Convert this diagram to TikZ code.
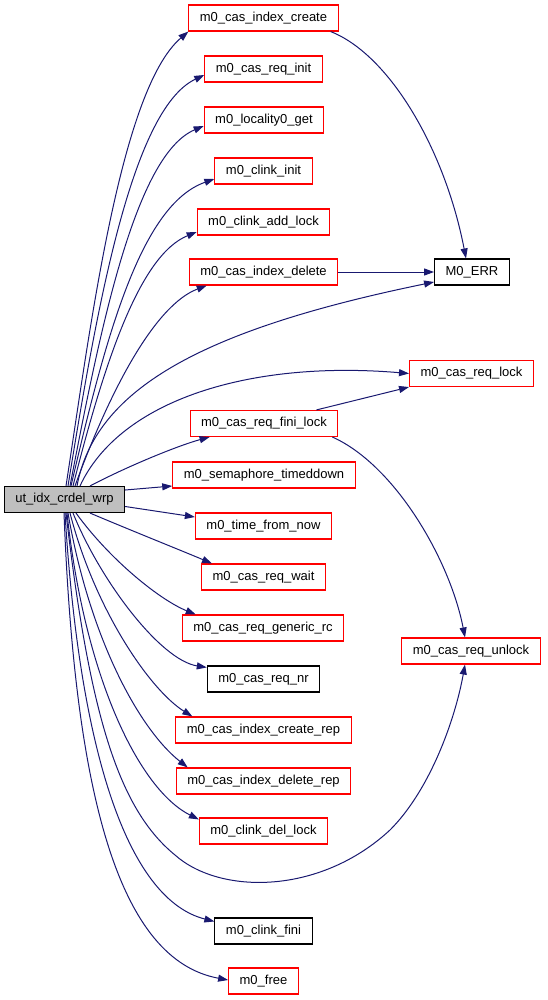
\documentclass[tikz,border=0pt]{standalone}
\usepackage{fontspec}
\setmainfont{Liberation Sans}
\usetikzlibrary{arrows.meta}
\definecolor{edgeblue}{rgb}{0.098,0.098,0.439}
\definecolor{boxred}{rgb}{1,0,0}
\definecolor{mainfill}{rgb}{0.75,0.75,0.75}
\begin{document}
\begin{tikzpicture}[x=1pt,y=-1pt,>={Triangle[length=10pt,width=7pt]},
		fn/.style={draw=boxred,line width=1.1pt,minimum height=26pt,inner xsep=11pt,inner ysep=0pt,font=\fontsize{13}{15}\selectfont},
		plain/.style={fn,draw=black},
		call/.style={->,edgeblue,line width=1pt}]
		\useasboundingbox (0,0) rectangle (547,1000);
		% caller
		\node[plain,fill=mainfill] (wrp) at (64.5,499.5) {ut\_idx\_crdel\_wrp};
		% callees
		\node[fn] (create) at (263.5,18) {m0\_cas\_index\_create};
		\node[fn] (reqinit) at (263.5,69) {m0\_cas\_req\_init};
		\node[fn] (locality) at (264,120) {m0\_locality0\_get};
		\node[fn] (clinkinit) at (263.5,171) {m0\_clink\_init};
		\node[fn] (addlock) at (263.5,222) {m0\_clink\_add\_lock};
		\node[fn] (idxdel) at (263.5,272) {m0\_cas\_index\_delete};
		\node[fn] (finilock) at (264,423.5) {m0\_cas\_req\_fini\_lock};
		\node[fn] (semdown) at (264,475) {m0\_semaphore\_timeddown};
		\node[fn] (timenow) at (263.5,526) {m0\_time\_from\_now};
		\node[fn] (reqwait) at (263.5,577) {m0\_cas\_req\_wait};
		\node[fn] (genrc) at (263,628) {m0\_cas\_req\_generic\_rc};
		\node[plain] (reqnr) at (263.5,679) {m0\_cas\_req\_nr};
		\node[fn] (createrep) at (263.5,730) {m0\_cas\_index\_create\_rep};
		\node[fn] (delrep) at (263.5,781) {m0\_cas\_index\_delete\_rep};
		\node[fn] (dellock) at (263.5,831) {m0\_clink\_del\_lock};
		\node[plain] (clinkfini) at (263.5,931) {m0\_clink\_fini};
		\node[fn] (free) at (263.5,981) {m0\_free};
		\node[plain] (err) at (472,272) {M0\_ERR};
		\node[fn] (reqlock) at (471.5,373.5) {m0\_cas\_req\_lock};
		\node[fn] (unlock) at (471,651) {m0\_cas\_req\_unlock};
		% calls from ut_idx_crdel_wrp
		\draw[call] ([xshift=1.5pt]wrp.north) .. controls (90,330) and (120,90) .. (create.south west);
		\draw[call] ([xshift=3.5pt]wrp.north) .. controls (95,320) and (130,110) .. ([yshift=-6pt]reqinit.west);
		\draw[call] ([xshift=5.5pt]wrp.north) .. controls (100,330) and (135,155) .. ([yshift=-6pt]locality.west);
		\draw[call] ([xshift=6.5pt]wrp.north) .. controls (105,340) and (140,205) .. ([yshift=-8pt]clinkinit.west);
		\draw[call] ([xshift=8.5pt]wrp.north) .. controls (105,360) and (140,255) .. ([yshift=-10pt]addlock.west);
		\draw[call] ([xshift=10.5pt]wrp.north) .. controls (110,390) and (155,305) .. ([xshift=18pt]idxdel.south west);
		\draw[call] ([xshift=12.5pt]wrp.north) .. controls (95,390) and (200,330) .. ([yshift=-10pt]err.west);
		\draw[call] ([xshift=15.5pt]wrp.north) .. controls (120,400) and (250,360) .. (reqlock.west);
		\draw[call] ([xshift=25.5pt]wrp.north) .. controls (130,465) and (180,445) .. ([xshift=20pt]finilock.south west);
		\draw[call] ([yshift=9.5pt]wrp.east) -- ([yshift=-11pt]semdown.west);
		\draw[call] ([yshift=-7pt]wrp.east) -- ([yshift=9pt]timenow.west);
		\draw[call] ([xshift=25.5pt]wrp.south) .. controls (130,530) and (180,550) .. ([xshift=11pt]reqwait.north west);
		\draw[call] ([xshift=11.5pt]wrp.south) .. controls (110,560) and (160,600) .. ([xshift=14pt]genrc.north west);
		\draw[call] ([xshift=8.5pt]wrp.south) .. controls (100,580) and (160,660) .. ([yshift=-2pt]reqnr.north west);
		\draw[call] ([xshift=5.5pt]wrp.south) .. controls (95,610) and (150,690) .. ([xshift=17pt]createrep.north west);
		\draw[call] ([xshift=3.5pt]wrp.south) .. controls (90,640) and (140,730) .. ([xshift=12pt]delrep.north west);
		\draw[call] ([xshift=2.5pt]wrp.south) .. controls (85,680) and (140,790) .. ([yshift=-2pt]dellock.north west);
		\draw[call] ([xshift=1.5pt]wrp.south) .. controls (90,720) and (120,810) .. (175,855)
			.. controls (220,895) and (320,895) .. (390,830)
			.. controls (430,790) and (455,720) .. ([xshift=-6pt]unlock.south);
		\draw[call] ([xshift=0.5pt]wrp.south) .. controls (80,760) and (130,900) .. ([yshift=-4pt]clinkfini.north west);
		\draw[call] ([xshift=-0.5pt]wrp.south) .. controls (75,800) and (120,960) .. ([yshift=1pt]free.west);
		% calls between callees
		\draw[call] ([xshift=-8pt]create.south east) .. controls (390,55) and (445,150) .. ([xshift=-6pt]err.north);
		\draw[call] (idxdel.east) -- (err.west);
		\draw[call] ([xshift=-22pt]finilock.north east) -- (reqlock.south west);
		\draw[call] ([xshift=-6pt]finilock.south east) .. controls (395,465) and (450,560) .. ([xshift=-6pt]unlock.north);
\end{tikzpicture}
\end{document}
